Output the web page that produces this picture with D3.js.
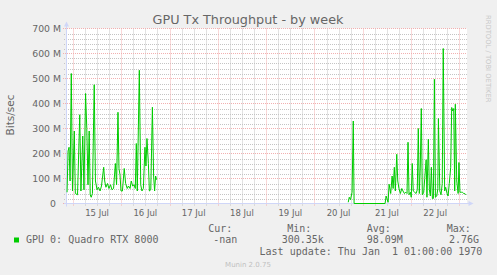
<!DOCTYPE html>
<html><head><meta charset="utf-8">
<script src="https://cdn.jsdelivr.net/npm/d3@7"></script>
<style>body{margin:0;background:#f0f0f0}svg{display:block}</style>
</head><body><svg id="c" width="497" height="275"></svg>
<script>
// Hours since 14 Jul 00:00, value in Mbit/s
const run1 = [[21.1,45],[21.6,210],[22.1,225],[22.6,90],[23.2,520],[23.8,50],[24.7,290],[25.2,40],[26.3,35],[27.4,355],[28.0,50],[28.9,270],[29.5,55],[30.3,440],[30.9,300],[31.5,75],[32.1,290],[32.6,35],[33.1,25],[33.7,40],[34.6,475],[35.2,90],[36.0,55],[36.7,65],[37.5,50],[38.2,70],[39.3,145],[39.8,90],[40.4,65],[41.2,80],[41.9,60],[42.7,75],[43.4,55],[44.2,60],[45.1,160],[45.7,75],[46.4,365],[46.9,140],[47.4,115],[47.9,50],[48.6,50],[49.5,140],[50.2,80],[51.0,60],[51.6,70],[52.4,60],[53.0,90],[53.7,70],[54.4,75],[55.0,60],[55.5,240],[56.0,50],[57.0,533],[57.7,75],[58.3,50],[59.0,60],[59.8,225],[60.3,150],[60.8,260],[61.5,160],[62.0,50],[62.7,55],[63.5,385],[64.1,110],[64.6,50],[65.1,110],[65.6,95]];
const run2 = [[160.8,5],[161.3,25],[161.9,15],[162.7,45],[163.3,330],[163.7,0],[179.1,0],[179.6,30],[180.6,5],[181.1,77],[181.9,40],[182.6,110],[183.1,60],[183.7,145],[184.2,50],[184.9,197],[185.4,90],[186.0,60],[186.7,40],[187.4,60],[188.0,50],[188.7,40],[189.4,45],[190.0,40],[190.5,245],[191.0,35],[191.7,45],[192.1,25],[192.6,160],[193.1,50],[193.8,45],[194.5,40],[195.1,55],[195.6,300],[196.1,40],[196.6,150],[197.1,380],[197.6,35],[198.3,45],[198.8,100],[199.5,175],[199.9,25],[200.6,257],[201.1,55],[201.6,30],[202.1,145],[202.6,20],[203.1,20],[203.6,497],[204.1,25],[204.8,30],[205.3,60],[205.6,340],[206.3,50],[206.9,35],[207.5,80],[208.0,620],[208.7,50],[209.2,65],[209.9,40],[210.4,30],[211.0,80],[211.7,145],[212.2,384],[212.7,370],[213.2,380],[213.7,50],[214.0,397],[214.7,90],[215.4,40],[215.8,164],[216.3,45],[217.0,45],[217.5,45],[218.2,40],[218.7,40],[219.2,35]];
const timeDomain = [21.07, 219.8];
const dayLabels = ["15 Jul","16 Jul","17 Jul","18 Jul","19 Jul","20 Jul","21 Jul","22 Jul"];
const yTicks = [0,100,200,300,400,500,600,700];
const yLabels = ["0","100 M","200 M","300 M","400 M","500 M","600 M","700 M"];
const legendHeads = ["Cur:","Min:","Avg:","Max:"];
const legendVals = ["-nan","300.35k","98.09M","2.76G"];
const seriesName = "GPU 0: Quadro RTX 8000";

const svg = d3.select("#c");
const L=67,R=467,T=28.5,B=203.5;
const x = d3.scaleLinear().domain(timeDomain).range([L,R]);
const y = d3.scaleLinear().domain([0,700]).range([B,T]);
const font="DejaVu Sans", mono="DejaVu Sans Mono";

svg.append("rect").attr("width",497).attr("height",275).attr("fill","#f0f0f0");
svg.append("rect").attr("x",L).attr("y",T).attr("width",R-L).attr("height",B-T).attr("fill","#ffffff");

const minorC="#c4c4c4", majorC="#f2b0b0";
const g = svg.append("g");
d3.range(20,700.1,20).filter(v=>v%100!==0).forEach(v=>{
  g.append("line").attr("x1",L-3).attr("x2",R).attr("y1",Math.round(y(v))+0.5).attr("y2",Math.round(y(v))+0.5)
   .attr("stroke",minorC).attr("stroke-dasharray","1,1");
});
d3.range(24,timeDomain[1],6).filter(h=>h%24!==0).forEach(h=>{
  const xx=Math.round(x(h))+0.5;
  g.append("line").attr("x1",xx).attr("x2",xx).attr("y1",T).attr("y2",B+2)
   .attr("stroke",minorC).attr("stroke-dasharray","1,1");
});
yTicks.forEach(v=>{
  g.append("line").attr("x1",L-4).attr("x2",R).attr("y1",Math.round(y(v)-0.5)+0.5).attr("y2",Math.round(y(v)-0.5)+0.5)
   .attr("stroke",majorC).attr("stroke-dasharray","1,1");
});
d3.range(24,timeDomain[1],24).forEach(h=>{
  const xx=Math.round(x(h))+0.5;
  g.append("line").attr("x1",xx).attr("x2",xx).attr("y1",T).attr("y2",B+3)
   .attr("stroke",majorC).attr("stroke-dasharray","1,1");
});

// axes
svg.append("line").attr("x1",66.5).attr("x2",66.5).attr("y1",B+3).attr("y2",24).attr("stroke","#cfd6f8");
svg.append("line").attr("x1",L-3).attr("x2",470).attr("y1",B).attr("y2",B).attr("stroke","#cfd6f8");
svg.append("path").attr("d","M64,26.5L66.5,21.5L69,26.5Z").attr("fill","#cfd6f8");
svg.append("path").attr("d","M468.5,201L473.5,203.5L468.5,206Z").attr("fill","#cfd6f8");

// data
const line = d3.line().x(d=>x(d[0])).y(d=>y(d[1]));
[run1,run2].forEach(r=>{
  svg.append("path").attr("d",line(r)).attr("fill","none").attr("stroke","#00cc00").attr("stroke-width",1);
});

// labels
yTicks.forEach((v,i)=>{
  svg.append("text").attr("x",i===0?56:61).attr("y",y(v)+3.8).attr("text-anchor","end")
   .attr("font-family",font).attr("font-size",9.3).attr("fill","#666").text(yLabels[i]);
});
dayLabels.forEach((t,i)=>{
  svg.append("text").attr("x",x(24*(i+1)+12)).attr("y",216).attr("text-anchor","middle")
   .attr("font-family",font).attr("font-size",8.5).attr("fill","#666").text(t);
});
svg.append("text").attr("x",248).attr("y",23.5).attr("text-anchor","middle")
  .attr("font-family",font).attr("font-size",12.8).attr("fill","#666").text("GPU Tx Throughput - by week");
svg.append("text").attr("transform","translate(14,115) rotate(-90)").attr("text-anchor","middle")
  .attr("font-family",font).attr("font-size",10.5).attr("fill","#666").text("Bits/sec");
svg.append("text").attr("transform","translate(485.5,15) rotate(90)").attr("text-anchor","start")
  .attr("font-family",font).attr("font-size",6.8).attr("fill","#c8c8c8").text("RRDTOOL / TOBI OETIKER");

// legend
const headX=[208.3,287.3,366.7,446.7], valX=[213.3,281.7,366.7,449];
legendHeads.forEach((t,i)=>svg.append("text").attr("x",headX[i]).attr("y",231.7)
  .attr("font-family",mono).attr("font-size",10).attr("fill","#666").text(t));
svg.append("rect").attr("x",14).attr("y",237.5).attr("width",5).attr("height",5).attr("fill","#00cc00");
svg.append("text").attr("x",26).attr("y",243.3).attr("font-family",mono).attr("font-size",10).attr("fill","#666").text(seriesName);
legendVals.forEach((t,i)=>svg.append("text").attr("x",valX[i]).attr("y",243.3)
  .attr("font-family",mono).attr("font-size",10).attr("fill","#666").text(t));
svg.append("text").attr("x",482.3).attr("y",255).attr("text-anchor","end").style("white-space","pre")
  .attr("font-family",mono).attr("font-size",10).attr("fill","#666").text("Last update: Thu Jan  1 01:00:00 1970");
svg.append("text").attr("x",248).attr("y",267).attr("text-anchor","middle")
  .attr("font-family",font).attr("font-size",7).attr("fill","#c0c0c0").text("Munin 2.0.75");
</script></body></html>
